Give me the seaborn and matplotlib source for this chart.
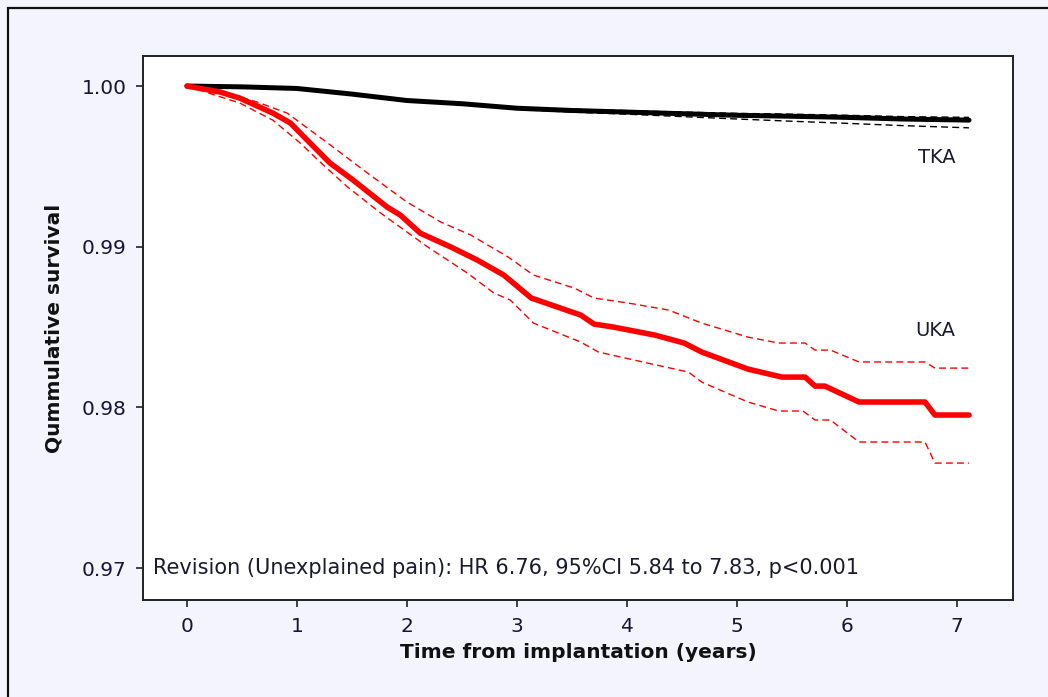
import numpy as np
import pandas as pd
import matplotlib
matplotlib.use("Agg")
import matplotlib.pyplot as plt
import matplotlib.patches as mpatches
import seaborn as sns

# ---- data ----
uka_t = [0, 0.3, 0.48, 0.78, 0.94, 1.12, 1.30, 1.51, 1.82, 1.94, 2.12, 2.40, 2.64, 2.88,
         3.13, 3.58, 3.70, 3.88, 4.25, 4.52, 4.68, 5.10, 5.41, 5.62, 5.71, 5.80, 6.11,
         6.71, 6.80, 7.11]
uka_s = [1.0, 0.99963, 0.99925, 0.99832, 0.99770, 0.99645, 0.99521, 0.99415, 0.99247,
         0.99197, 0.99085, 0.98998, 0.98917, 0.98824, 0.98681, 0.98575, 0.98519, 0.98500,
         0.98451, 0.98401, 0.98345, 0.98239, 0.98189, 0.98189, 0.98133, 0.98133, 0.98034,
         0.98034, 0.97953, 0.97953]

uka_up_t = [0, 0.27, 0.64, 0.91, 1.28, 1.64, 2.0, 2.31, 2.58, 2.92, 3.15, 3.52, 3.70,
            4.01, 4.38, 4.68, 5.10, 5.38, 5.62, 5.71, 5.85, 6.11, 6.71, 6.80, 7.11]
uka_up_s = [1.0, 0.99975, 0.99900, 0.99832, 0.99645, 0.99459, 0.99278, 0.99153, 0.99073,
            0.98936, 0.98824, 0.98743, 0.98681, 0.98650, 0.98606, 0.98525, 0.98438,
            0.98401, 0.98401, 0.98357, 0.98357, 0.98283, 0.98283, 0.98245, 0.98245]

uka_lo_t = [0, 0.48, 0.78, 1.03, 1.19, 1.46, 1.76, 2.19, 2.55, 2.79, 2.94, 3.15, 3.58,
            3.74, 4.19, 4.56, 4.68, 5.10, 5.38, 5.60, 5.71, 5.85, 6.11, 6.71, 6.80, 7.11]
uka_lo_s = [1.0, 0.99894, 0.99788, 0.99645, 0.99540, 0.99372, 0.99210, 0.98998, 0.98836,
            0.98712, 0.98668, 0.98525, 0.98407, 0.98345, 0.98276, 0.98220, 0.98158,
            0.98034, 0.97978, 0.97978, 0.97922, 0.97922, 0.97785, 0.97785, 0.97654, 0.97654]

tka_t = [0, 0.5, 1.0, 1.5, 2.0, 2.5, 3.0, 3.5, 4.0, 4.5, 5.0, 5.5, 6.0, 6.5, 7.11]
tka_s = [1.0, 0.99995, 0.99985, 0.99950, 0.99910, 0.99890, 0.99862, 0.99848, 0.99838,
         0.99828, 0.99818, 0.99812, 0.99805, 0.99795, 0.99788]
tka_up_s = [1.0, 0.99996, 0.99988, 0.99955, 0.99916, 0.99896, 0.99869, 0.99856, 0.99847,
            0.99838, 0.99830, 0.99825, 0.99818, 0.99810, 0.99805]
tka_lo_s = [1.0, 0.99994, 0.99982, 0.99945, 0.99904, 0.99883, 0.99854, 0.99838, 0.99825,
            0.99810, 0.99795, 0.99781, 0.99768, 0.99754, 0.99740]

x_ticks = [0, 1, 2, 3, 4, 5, 6, 7]
y_ticks = [0.97, 0.98, 0.99, 1.00]
y_tick_labels = ["0.97", "0.98", "0.99", "1.00"]

annotation = "Revision (Unexplained pain): HR 6.76, 95%CI 5.84 to 7.83, p<0.001"

# ---- figure ----
sns.set_theme(style="white")
plt.rcParams["font.family"] = ["DejaVu Sans"]

W, H = 1048, 697
fig = plt.figure(figsize=(W / 100, H / 100), dpi=100, facecolor="#F3F4FD")
ax = fig.add_axes([143 / W, (H - 600) / H, (1013 - 143) / W, (600 - 56) / H])
ax.set_facecolor("white")

# outer frame of the picture
fig.patches.append(mpatches.Rectangle((8 / W, -0.2), 1.3, 1.2 - 8 / H,
                                      transform=fig.transFigure, fill=False,
                                      edgecolor="#111111", linewidth=1.6))

ci_style = dict(linewidth=1.0, dashes=(5, 3), legend=False)

sns.lineplot(x=tka_t, y=tka_lo_s, ax=ax, color="black", **ci_style)
sns.lineplot(x=tka_t, y=tka_up_s, ax=ax, color="black", **ci_style)
sns.lineplot(x=tka_t, y=tka_s, ax=ax, color="black", linewidth=3.6, legend=False)

sns.lineplot(x=uka_up_t, y=uka_up_s, ax=ax, color="red", **ci_style)
sns.lineplot(x=uka_lo_t, y=uka_lo_s, ax=ax, color="red", **ci_style)
sns.lineplot(x=uka_t, y=uka_s, ax=ax, color="red", linewidth=4.0, legend=False)

ax.set_xlim(-0.4, 7.51)
ax.set_ylim(0.96802, 1.00187)
ax.set_xticks(x_ticks)
ax.set_yticks(y_ticks)
ax.set_yticklabels(y_tick_labels)

for s in ax.spines.values():
    s.set_color("#222222")
    s.set_linewidth(1.4)
ax.tick_params(axis="both", which="major", direction="out", length=5, width=1.2,
               color="#222222", labelsize=14.5, labelcolor="#15153a", pad=7,
               left=True, bottom=True)

ax.set_xlabel("Time from implantation (years)", fontsize=14.5, fontweight="bold",
              color="#111111", labelpad=5)
ax.set_ylabel("Qummulative survival", fontsize=14.5, fontweight="bold",
              color="#111111", labelpad=13)

ax.text(6.82, 0.99558, "TKA", fontsize=14, color="#1a1a2e", ha="center", va="center")
ax.text(6.80, 0.98482, "UKA", fontsize=14, color="#1a1a2e", ha="center", va="center")
ann = ax.text((153 - 143) / (1013 - 143), (600 - 568) / (600 - 56), annotation,
              transform=ax.transAxes, fontsize=15, color="#1a1a2e", va="center")

fig.savefig("out.png", dpi=100, facecolor=fig.get_facecolor())
